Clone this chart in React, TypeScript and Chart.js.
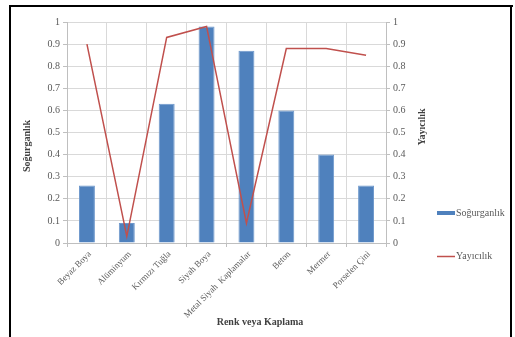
import { useEffect, useRef } from "react";
import { Chart, registerables } from "chart.js";

Chart.register(...registerables);

// Surface finishes and their measured properties
const categories = [
  "Beyaz Boya",
  "Alüminyum",
  "Kırmızı Tuğla",
  "Siyah Boya",
  "Metal Siyah  Kaplamalar",
  "Beton",
  "Mermer",
  "Porselen Çini",
];
const sogurganlik = [0.26, 0.09, 0.63, 0.98, 0.87, 0.6, 0.4, 0.26];
const yayicilik = [0.9, 0.03, 0.93, 0.98, 0.09, 0.88, 0.88, 0.85];

const axisMin = 0;
const axisMax = 1;
const axisStep = 0.1;

const W = 515;
const H = 337;
const FONT = "'Liberation Serif', 'Times New Roman', serif";
const BLUE = "#4F81BD";
const RED = "#C0504D";
const GRID = "#D9D9D9";
const AXIS = "#BFBFBF";
const TICK_TEXT = "#595959";
const TITLE_TEXT = "#404040";

const formatTick = (v: number | string) => String(Number(Number(v).toFixed(1)));

// Outer frame, axis titles and legend drawn on top of the chart
const decorations = {
  id: "decorations",
  afterDraw(chart: Chart) {
    const ctx = chart.ctx;
    ctx.save();

    // frame
    ctx.fillStyle = "#000";
    ctx.fillRect(9, 5, 504, 2);
    ctx.fillRect(9, 5, 2, H);
    ctx.fillRect(510, 5, 2, H);

    // axis titles
    ctx.fillStyle = TITLE_TEXT;
    ctx.font = `bold 10px ${FONT}`;
    ctx.textAlign = "center";
    ctx.textBaseline = "middle";
    ctx.fillText("Renk veya Kaplama", 260, 322);

    ctx.save();
    ctx.translate(27, 146);
    ctx.rotate(-Math.PI / 2);
    ctx.fillText("Soğurganlık", 0, 0);
    ctx.restore();

    ctx.save();
    ctx.translate(422, 127);
    ctx.rotate(-Math.PI / 2);
    ctx.fillText("Yayıcılık", 0, 0);
    ctx.restore();

    // legend
    const ds = chart.data.datasets;
    ctx.font = `10px ${FONT}`;
    ctx.textAlign = "left";
    ctx.fillStyle = ds[0].backgroundColor as string;
    ctx.fillRect(437, 211, 18, 4);
    ctx.fillStyle = TICK_TEXT;
    ctx.fillText(ds[0].label as string, 456, 213);

    ctx.strokeStyle = ds[1].borderColor as string;
    ctx.lineWidth = 1.5;
    ctx.beginPath();
    ctx.moveTo(437, 256.5);
    ctx.lineTo(455, 256.5);
    ctx.stroke();
    ctx.fillStyle = TICK_TEXT;
    ctx.fillText(ds[1].label as string, 456, 256);

    ctx.restore();
  },
};

const whiteBackground = {
  id: "whiteBackground",
  beforeDraw(chart: Chart) {
    const ctx = chart.ctx;
    ctx.save();
    ctx.fillStyle = "#fff";
    ctx.fillRect(0, 0, chart.width, chart.height);
    ctx.restore();
  },
};

export default function App() {
  const ref = useRef<HTMLCanvasElement>(null);

  useEffect(() => {
    if (!ref.current) return;
    const tickFont = { family: FONT, size: 10 };
    const chart = new Chart(ref.current, {
      type: "bar",
      data: {
        labels: categories,
        datasets: [
          {
            type: "bar",
            label: "Soğurganlık",
            data: sogurganlik,
            backgroundColor: BLUE,
            borderColor: "#6E98CC",
            borderWidth: 1,
            categoryPercentage: 1,
            barPercentage: 0.4,
            yAxisID: "y",
            order: 2,
          },
          {
            type: "line",
            label: "Yayıcılık",
            data: yayicilik,
            borderColor: RED,
            backgroundColor: RED,
            borderWidth: 1.5,
            pointRadius: 0,
            tension: 0,
            yAxisID: "y1",
            order: 1,
          },
        ],
      },
      options: {
        responsive: false,
        animation: false,
        devicePixelRatio: 1,
        layout: { padding: { top: 22, left: 0, right: 0, bottom: 0 } },
        plugins: {
          legend: { display: false },
          tooltip: { enabled: false },
        },
        scales: {
          x: {
            offset: true,
            grid: {
              offset: true,
              color: GRID,
              tickColor: AXIS,
              tickLength: 4,
            },
            border: { color: AXIS },
            ticks: {
              autoSkip: false,
              maxRotation: 45,
              minRotation: 45,
              padding: 2,
              labelOffset: 3,
              color: TICK_TEXT,
              font: { family: FONT, size: 9 },
            },
            afterFit(scale: any) {
              scale.height = 94;
            },
          },
          y: {
            position: "left",
            min: axisMin,
            max: axisMax,
            grid: { color: GRID, tickColor: AXIS, tickLength: 4 },
            border: { color: AXIS },
            ticks: {
              stepSize: axisStep,
              padding: 3,
              color: TICK_TEXT,
              font: tickFont,
              callback: formatTick,
            },
            afterFit(scale: any) {
              scale.width = 67;
            },
          },
          y1: {
            position: "right",
            min: axisMin,
            max: axisMax,
            grid: {
              drawOnChartArea: false,
              tickColor: AXIS,
              tickLength: 4,
            },
            border: { color: AXIS },
            ticks: {
              stepSize: axisStep,
              padding: 3,
              color: TICK_TEXT,
              font: tickFont,
              callback: formatTick,
            },
            afterFit(scale: any) {
              scale.width = W - 386;
            },
          },
        },
      },
      plugins: [whiteBackground, decorations],
    });
    return () => chart.destroy();
  }, []);

  return (
    <div style={{ position: "absolute", left: 0, top: 0, width: W, height: H }}>
      <canvas ref={ref} width={W} height={H} style={{ display: "block" }} />
    </div>
  );
}
